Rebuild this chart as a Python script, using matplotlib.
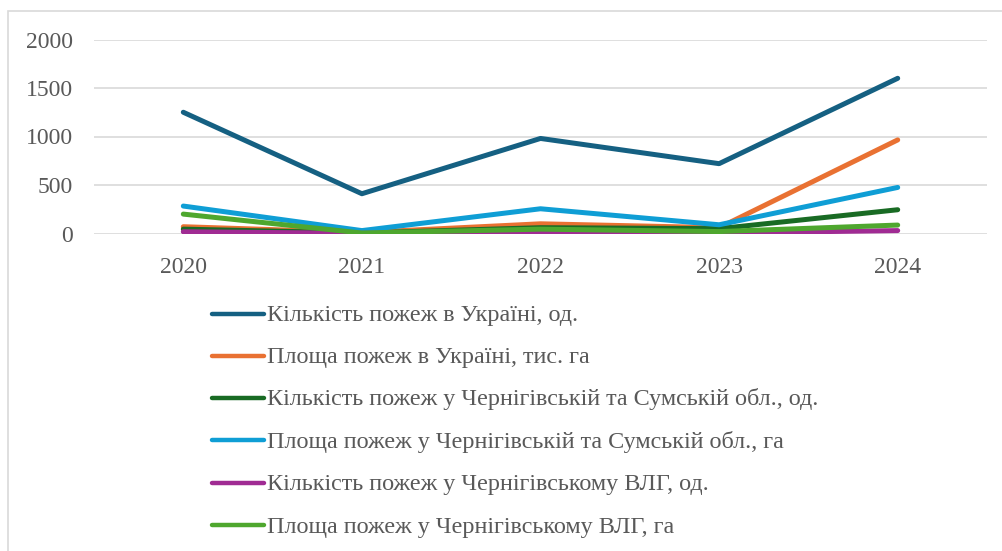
import numpy as np
import matplotlib.pyplot as plt
from matplotlib.patches import Rectangle
from matplotlib.lines import Line2D

plt.rcParams['font.family'] = ['Liberation Serif', 'DejaVu Serif']

years = ['2020', '2021', '2022', '2023', '2024']

fires_ua = [1250, 410, 980, 720, 1600]
area_ua = [70, 10, 100, 60, 965]
fires_obl = [45, 5, 60, 50, 245]
area_obl = [283, 30, 255, 90, 475]
fires_vlg = [18, 2, 15, 5, 30]
area_vlg = [200, 5, 45, 20, 87]

labels = [
    'Кількість пожеж в Україні, од.',
    'Площа пожеж в Україні, тис. га',
    'Кількість пожеж у Чернігівській та Сумській обл., од.',
    'Площа пожеж у Чернігівській та Сумській обл., га',
    'Кількість пожеж у Чернігівському ВЛГ, од.',
    'Площа пожеж у Чернігівському ВЛГ, га',
]
series = [fires_ua, area_ua, fires_obl, area_obl, fires_vlg, area_vlg]
colors = ['#156082', '#E97132', '#196B24', '#0F9ED5', '#A02B93', '#4EA72E']

W, H = 1003, 551
fig = plt.figure(figsize=(W / 100, H / 100), dpi=100)

# outer chart border (runs off the right and bottom edges)
fig.patches.append(Rectangle((8.5 / W, -0.1), 1.2, 1.1 - 10.5 / H,
                             transform=fig.transFigure, fill=False,
                             edgecolor='#d9d9d9', linewidth=1.2))

ax = fig.add_axes([94 / W, 1 - 233.5 / H, (987 - 94) / W, (233.5 - 39.5) / H])
x = np.arange(len(years))
# draw order: later series on top, as in the original
for vals, c in zip(series, colors):
    ax.plot(x, vals, color=c, linewidth=3.6, solid_capstyle='round',
            solid_joinstyle='round', zorder=3)

ax.set_xlim(-0.5, len(years) - 0.5)
ax.set_ylim(0, 2000)
ax.set_yticks([0, 500, 1000, 1500, 2000])
ax.set_xticks(x)
ax.set_xticklabels(years)
ax.grid(axis='y', color='#d9d9d9', linewidth=1.2)
ax.set_axisbelow(True)
for s in ax.spines.values():
    s.set_visible(False)
ax.tick_params(length=0, labelsize=17, colors='#595959')
ax.tick_params(axis='y', pad=15)
ax.tick_params(axis='x', pad=17)

# legend below the plot
row_y = [313.5, 355.5, 397.5, 440, 482.5, 525]
for lab, c, yy in zip(labels, colors, row_y):
    fy = 1 - yy / H
    fig.add_artist(Line2D([212 / W, 264 / W], [fy, fy], color=c, linewidth=3.2,
                          solid_capstyle='round', transform=fig.transFigure))
    fig.text(267 / W, 1 - (yy + 2) / H, lab, fontsize=17.4, color='#595959',
             va='center', ha='left')

fig.savefig('out.png', dpi=100, facecolor='white')
